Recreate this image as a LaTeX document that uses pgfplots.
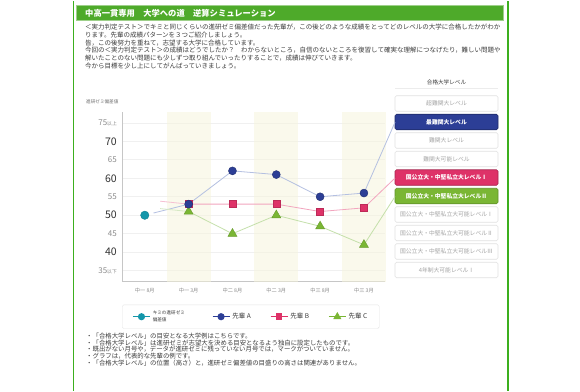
\documentclass[border=0pt]{standalone}
\usepackage{fontspec}
\setmainfont{Noto Sans CJK JP}
\usepackage{pgfplots}
\pgfplotsset{compat=1.18}
\definecolor{frameG}{RGB}{60,175,30}
\definecolor{barG}{RGB}{78,170,42}
\definecolor{cTeal}{RGB}{20,150,170}
\definecolor{cA}{RGB}{44,62,150}
\definecolor{cB}{RGB}{222,50,104}
\definecolor{cC}{RGB}{122,182,52}
\definecolor{lA}{RGB}{180,192,225}
\definecolor{lB}{RGB}{242,165,190}
\definecolor{lC}{RGB}{196,224,170}
\definecolor{band}{RGB}{247,245,219}
\definecolor{txt}{RGB}{60,60,60}
\definecolor{tdark}{RGB}{50,50,50}
\definecolor{tgray}{RGB}{140,140,140}
\definecolor{boxline}{RGB}{225,225,225}
\definecolor{boxtxt}{RGB}{165,165,165}
\newcommand{\fs}[1]{\fontsize{#1}{#1}\selectfont}
\newcommand{\lvl}[5]{%
  \draw[rounded corners=1.5pt, fill=#2, draw=#3, line width=0.6pt] (395,{390-95-18.5*#1}) rectangle (498,{390-110.5-18.5*#1});
  \node[text=#4, font=\fs{5.8}, inner sep=0] at (446.5,{390-102.75-18.5*#1}) {#5};}
\begin{document}
\begin{tikzpicture}[x=1pt,y=1pt]
\fill[white] (0,0) rectangle (580,390);
\draw[frameG, line width=1.5pt] (73.5,0) -- (73.5,390);
\draw[frameG, line width=1.5pt] (508,0) -- (508,390);
\fill[barG] (76,370) rectangle (503,385);
\draw[barG!55!white, line width=0.6pt] (76,370) rectangle (503,385);
\node[anchor=west, text=white, font=\bfseries\fs{8.3}, inner sep=0] at (85,377.5) {中高一貫専用　大学への道　逆算シミュレーション};
\node[anchor=north west, inner sep=0, align=left, text=txt, font=\fontsize{6.5}{7.8}\selectfont] at (85,367) {%
＜実力判定テスト＞でキミと同じくらいの進研ゼミ偏差値だった先輩が，この後どのような成績をとってどのレベルの大学に合格したかがわか\\
ります。先輩の成績パターンを３つご紹介しましょう。\\
皆，この後努力を重ねて，志望する大学に合格しています。\\
今回の＜実力判定テスト＞の成績はどうでしたか？　わからないところ，自信のないところを復習して確実な理解につなげたり，難しい問題や\\
解いたことのない問題にも少しずつ取り組んでいったりすることで，成績は伸びていきます。\\
今から目標を少し上にしてがんばっていきましょう。};
\node[anchor=west, inner sep=0, text=tgray!80!black, font=\fs{4.6}] at (86,289) {進研ゼミ偏差値};
\node[inner sep=0, text=txt, font=\fs{5.6}] at (446.5,308.5) {合格大学レベル};
\draw[gray!15, line width=0.5pt] (395,302) -- (498,302);
\lvl{0}{white}{boxline}{boxtxt}{超難関大レベル}
\lvl{1}{cA}{cA!70!black}{white}{\bfseries 最難関大レベル}
\lvl{2}{white}{boxline}{boxtxt}{難関大レベル}
\lvl{3}{white}{boxline}{boxtxt}{難関大可能レベル}
\lvl{4}{cB}{cB!75!black}{white}{\bfseries 国公立大・中堅私立大レベルⅠ}
\lvl{5}{cC}{cC!80!black}{white}{\bfseries 国公立大・中堅私立大レベルⅡ}
\lvl{6}{white}{boxline}{boxtxt}{国公立大・中堅私立大可能レベルⅠ}
\lvl{7}{white}{boxline}{boxtxt}{国公立大・中堅私立大可能レベルⅡ}
\lvl{8}{white}{boxline}{boxtxt}{国公立大・中堅私立大可能レベルⅢ}
\lvl{9}{white}{boxline}{boxtxt}{4年制大可能レベルⅠ}
\begin{axis}[
  at={(122pt,109pt)}, anchor=south west, scale only axis,
  width=263pt, height=170pt,
  xmin=-0.52, xmax=5.48, ymin=32, ymax=78,
  clip=false,
  axis x line*=bottom, axis y line*=left,
  axis line style={-, draw=gray!45, line width=0.8pt},
  major tick length=0pt,
  ymajorgrids, major grid style={draw=gray!12, line width=0.6pt},
  xtick={0,1,2,3,4,5},
  xticklabels={中一 8月,中一 3月,中二 8月,中二 3月,中三 8月,中三 3月},
  xticklabel style={font=\fs{5.2}, text=tgray, inner sep=0, yshift=-6pt},
  ytick={35,40,45,50,55,60,65,70,75},
  yticklabels={{\color{tgray}\fs{8}35\fs{4.8}以下},{\color{tdark}\fs{10.5}40},{\color{tgray}\fs{8}45},{\color{tdark}\fs{10.5}50},{\color{tgray}\fs{8}55},{\color{tdark}\fs{10.5}60},{\color{tgray}\fs{8}65},{\color{tdark}\fs{10.5}70},{\color{tgray}\fs{8}75\fs{4.8}以上}},
  yticklabel style={anchor=east, inner sep=0, xshift=-5pt},
  legend style={at={(0,-0.135)}, anchor=north west, draw=gray!20, rounded corners=1.5pt,
    font=\fs{6.5}, text=txt, inner xsep=10pt, inner ysep=3.5pt,
    /tikz/every even column/.append style={column sep=17pt}},
  legend columns=4, legend cell align=left,
]
\fill[band, fill opacity=0.5] (axis cs:0.5,32) rectangle (axis cs:1.5,78);
\fill[band, fill opacity=0.5] (axis cs:2.5,32) rectangle (axis cs:3.5,78);
\fill[band, fill opacity=0.5] (axis cs:4.5,32) rectangle (axis cs:5.5,78);
% faint lead-in lines
\addplot[lA, line width=0.8pt, forget plot] coordinates {(0.2,50.6)(1,53)};
\addplot[lB!70!white, line width=0.8pt, forget plot] coordinates {(0.35,53.8)(1,53)};
\addplot[lC!70!white, line width=0.8pt, forget plot] coordinates {(0.35,51.8)(1,51)};
% series lines incl. connectors to level boxes
\addplot[lA, line width=0.8pt, forget plot] coordinates {(1,53)(2,62)(3,61)(4,55)(5,56)(5.71,75.2)};
\addplot[lB, line width=0.8pt, forget plot] coordinates {(1,53)(2,53)(3,53)(4,51)(5,52)(5.71,60.07)};
\addplot[lC, line width=0.8pt, forget plot] coordinates {(1,51)(2,45)(3,50)(4,47)(5,42)(5.71,55.07)};
% marks
\addplot[only marks, mark=*, mark size=4.2pt, mark options={fill=cTeal, draw=cTeal!85!black, line width=0.4pt}, forget plot] coordinates {(0,50)};
\addplot[only marks, mark=triangle*, mark size=5.2pt, mark options={fill=cC, draw=cC!85!black, line width=0.4pt}, forget plot] coordinates {(1,51)(2,45)(3,50)(4,47)(5,42)};
\addplot[only marks, mark=square*, mark size=3.5pt, mark options={fill=cB, draw=cB!85!black, line width=0.4pt}, forget plot] coordinates {(1,53)(2,53)(3,53)(4,51)(5,52)};
\addplot[only marks, mark=*, mark size=4pt, mark options={fill=cA, draw=cA!75!black, line width=0.4pt}, forget plot] coordinates {(1,53)(2,62)(3,61)(4,55)(5,56)};
% legend
\addlegendimage{cTeal, line width=1.5pt, mark=*, mark size=2.8pt, mark options={fill=cTeal}}
\addlegendentry{\makebox[40pt][l]{\fs{4.6}\shortstack[l]{キミの進研ゼミ\\偏差値}}}
\addlegendimage{cA, line width=1.5pt, mark=*, mark size=2.8pt, mark options={fill=cA}}
\addlegendentry{先輩 A}
\addlegendimage{cB, line width=1.5pt, mark=square*, mark size=2.5pt, mark options={fill=cB}}
\addlegendentry{先輩 B}
\addlegendimage{cC, line width=1.5pt, mark=triangle*, mark size=3.2pt, mark options={fill=cC}}
\addlegendentry{先輩 C}
\end{axis}
\node[anchor=north west, inner sep=0, align=left, text=txt, font=\fontsize{6.4}{6.8}\selectfont] at (86,58) {%
・「合格大学レベル」の目安となる大学例はこちらです。\\
・「合格大学レベル」は進研ゼミが志望大を決める目安となるよう独自に設定したものです。\\
・既出がない月号や，データが進研ゼミに残っていない月号では，マークがついていません。\\
・グラフは，代表的な先輩の例です。\\
・「合格大学レベル」の位置（高さ）と，進研ゼミ偏差値の目盛りの高さは関連がありません。};
\end{tikzpicture}
\end{document}
